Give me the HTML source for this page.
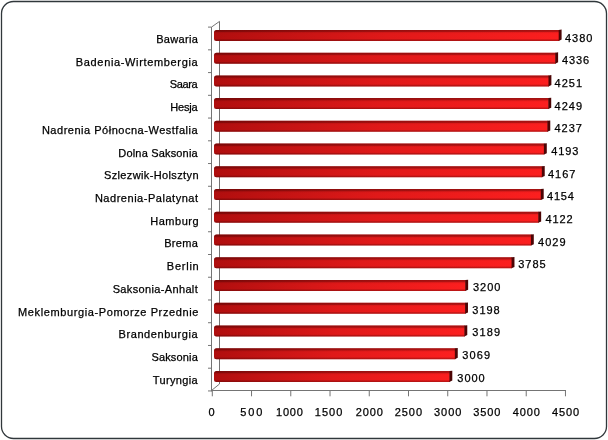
<!DOCTYPE html><html><head><meta charset="utf-8"><style>html,body{margin:0;padding:0;background:#fff;width:608px;height:440px;overflow:hidden}svg{display:block;will-change:transform}text{font-family:"Liberation Sans",sans-serif;font-size:11px;fill:#000;stroke:#000;stroke-width:0.25px}</style></head><body>
<svg width="608" height="440" viewBox="0 0 608 440">
<defs>
<linearGradient id="gh" x1="0" y1="0" x2="1" y2="0"><stop offset="0" stop-color="#b00e0e"/><stop offset="0.25" stop-color="#c81414"/><stop offset="0.5" stop-color="#e01919"/><stop offset="1" stop-color="#fc1f1f"/></linearGradient>
<linearGradient id="gv" x1="0" y1="0" x2="0" y2="1"><stop offset="0" stop-color="#300" stop-opacity="0.45"/><stop offset="0.16" stop-color="#300" stop-opacity="0.35"/><stop offset="0.24" stop-color="#300" stop-opacity="0.08"/><stop offset="0.35" stop-color="#300" stop-opacity="0"/><stop offset="0.8" stop-color="#300" stop-opacity="0"/><stop offset="0.9" stop-color="#300" stop-opacity="0.25"/><stop offset="1" stop-color="#300" stop-opacity="0.35"/></linearGradient>
</defs>
<rect x="1.5" y="1.5" width="605" height="437" rx="12" ry="12" fill="#fff" stroke="#30373b" stroke-width="1.3"/>
<g stroke="#747474" stroke-width="1" fill="none">
<path d="M211.5 27.1 V391.5 M219.5 21.4 V384 M211.5 27.1 L219.5 21.4 M211.5 390.5 L219.5 384 M211.5 390.5 H566"/>
<path d="M208 27.10 H211.5"/>
<path d="M208 49.84 H211.5"/>
<path d="M208 72.58 H211.5"/>
<path d="M208 95.32 H211.5"/>
<path d="M208 118.06 H211.5"/>
<path d="M208 140.80 H211.5"/>
<path d="M208 163.54 H211.5"/>
<path d="M208 186.28 H211.5"/>
<path d="M208 209.02 H211.5"/>
<path d="M208 231.76 H211.5"/>
<path d="M208 254.50 H211.5"/>
<path d="M208 277.24 H211.5"/>
<path d="M208 299.98 H211.5"/>
<path d="M208 322.72 H211.5"/>
<path d="M208 345.46 H211.5"/>
<path d="M208 368.20 H211.5"/>
<path d="M208 390.94 H211.5"/>
<path d="M212.30 390.5 V396.3"/>
<path d="M251.54 390.5 V396.3"/>
<path d="M290.78 390.5 V396.3"/>
<path d="M330.02 390.5 V396.3"/>
<path d="M369.26 390.5 V396.3"/>
<path d="M408.50 390.5 V396.3"/>
<path d="M447.74 390.5 V396.3"/>
<path d="M486.98 390.5 V396.3"/>
<path d="M526.22 390.5 V396.3"/>
<path d="M565.46 390.5 V396.3"/>
</g>
<path d="M216.50 29.90 H559.20 V40.90 H216.50 Q214 40.90 214 38.40 V32.40 Q214 29.90 216.50 29.90Z" fill="url(#gh)"/>
<path d="M216.50 29.90 H559.20 V40.90 H216.50 Q214 40.90 214 38.40 V32.40 Q214 29.90 216.50 29.90Z" fill="url(#gv)"/>
<path d="M558.70 29.90 L561.60 29.60 V39.50 L558.70 40.90Z" fill="#4c0505"/>
<path d="M216.50 52.64 H555.71 V63.64 H216.50 Q214 63.64 214 61.14 V55.14 Q214 52.64 216.50 52.64Z" fill="url(#gh)"/>
<path d="M216.50 52.64 H555.71 V63.64 H216.50 Q214 63.64 214 61.14 V55.14 Q214 52.64 216.50 52.64Z" fill="url(#gv)"/>
<path d="M555.21 52.64 L558.11 52.34 V62.24 L555.21 63.64Z" fill="#4c0505"/>
<path d="M216.50 75.38 H548.98 V86.38 H216.50 Q214 86.38 214 83.88 V77.88 Q214 75.38 216.50 75.38Z" fill="url(#gh)"/>
<path d="M216.50 75.38 H548.98 V86.38 H216.50 Q214 86.38 214 83.88 V77.88 Q214 75.38 216.50 75.38Z" fill="url(#gv)"/>
<path d="M548.48 75.38 L551.38 75.08 V84.98 L548.48 86.38Z" fill="#4c0505"/>
<path d="M216.50 98.12 H548.82 V109.12 H216.50 Q214 109.12 214 106.62 V100.62 Q214 98.12 216.50 98.12Z" fill="url(#gh)"/>
<path d="M216.50 98.12 H548.82 V109.12 H216.50 Q214 109.12 214 106.62 V100.62 Q214 98.12 216.50 98.12Z" fill="url(#gv)"/>
<path d="M548.32 98.12 L551.22 97.82 V107.72 L548.32 109.12Z" fill="#4c0505"/>
<path d="M216.50 120.86 H547.87 V131.86 H216.50 Q214 131.86 214 129.36 V123.36 Q214 120.86 216.50 120.86Z" fill="url(#gh)"/>
<path d="M216.50 120.86 H547.87 V131.86 H216.50 Q214 131.86 214 129.36 V123.36 Q214 120.86 216.50 120.86Z" fill="url(#gv)"/>
<path d="M547.37 120.86 L550.27 120.56 V130.46 L547.37 131.86Z" fill="#4c0505"/>
<path d="M216.50 143.60 H544.39 V154.60 H216.50 Q214 154.60 214 152.10 V146.10 Q214 143.60 216.50 143.60Z" fill="url(#gh)"/>
<path d="M216.50 143.60 H544.39 V154.60 H216.50 Q214 154.60 214 152.10 V146.10 Q214 143.60 216.50 143.60Z" fill="url(#gv)"/>
<path d="M543.89 143.60 L546.79 143.30 V153.20 L543.89 154.60Z" fill="#4c0505"/>
<path d="M216.50 166.34 H542.33 V177.34 H216.50 Q214 177.34 214 174.84 V168.84 Q214 166.34 216.50 166.34Z" fill="url(#gh)"/>
<path d="M216.50 166.34 H542.33 V177.34 H216.50 Q214 177.34 214 174.84 V168.84 Q214 166.34 216.50 166.34Z" fill="url(#gv)"/>
<path d="M541.83 166.34 L544.73 166.04 V175.94 L541.83 177.34Z" fill="#4c0505"/>
<path d="M216.50 189.08 H541.30 V200.08 H216.50 Q214 200.08 214 197.58 V191.58 Q214 189.08 216.50 189.08Z" fill="url(#gh)"/>
<path d="M216.50 189.08 H541.30 V200.08 H216.50 Q214 200.08 214 197.58 V191.58 Q214 189.08 216.50 189.08Z" fill="url(#gv)"/>
<path d="M540.80 189.08 L543.70 188.78 V198.68 L540.80 200.08Z" fill="#4c0505"/>
<path d="M216.50 211.82 H538.76 V222.82 H216.50 Q214 222.82 214 220.32 V214.32 Q214 211.82 216.50 211.82Z" fill="url(#gh)"/>
<path d="M216.50 211.82 H538.76 V222.82 H216.50 Q214 222.82 214 220.32 V214.32 Q214 211.82 216.50 211.82Z" fill="url(#gv)"/>
<path d="M538.26 211.82 L541.16 211.52 V221.42 L538.26 222.82Z" fill="#4c0505"/>
<path d="M216.50 234.56 H531.40 V245.56 H216.50 Q214 245.56 214 243.06 V237.06 Q214 234.56 216.50 234.56Z" fill="url(#gh)"/>
<path d="M216.50 234.56 H531.40 V245.56 H216.50 Q214 245.56 214 243.06 V237.06 Q214 234.56 216.50 234.56Z" fill="url(#gv)"/>
<path d="M530.90 234.56 L533.80 234.26 V244.16 L530.90 245.56Z" fill="#4c0505"/>
<path d="M216.50 257.30 H512.07 V268.30 H216.50 Q214 268.30 214 265.80 V259.80 Q214 257.30 216.50 257.30Z" fill="url(#gh)"/>
<path d="M216.50 257.30 H512.07 V268.30 H216.50 Q214 268.30 214 265.80 V259.80 Q214 257.30 216.50 257.30Z" fill="url(#gv)"/>
<path d="M511.57 257.30 L514.47 257.00 V266.90 L511.57 268.30Z" fill="#4c0505"/>
<path d="M216.50 280.04 H465.74 V291.04 H216.50 Q214 291.04 214 288.54 V282.54 Q214 280.04 216.50 280.04Z" fill="url(#gh)"/>
<path d="M216.50 280.04 H465.74 V291.04 H216.50 Q214 291.04 214 288.54 V282.54 Q214 280.04 216.50 280.04Z" fill="url(#gv)"/>
<path d="M465.24 280.04 L468.14 279.74 V289.64 L465.24 291.04Z" fill="#4c0505"/>
<path d="M216.50 302.78 H465.58 V313.78 H216.50 Q214 313.78 214 311.28 V305.28 Q214 302.78 216.50 302.78Z" fill="url(#gh)"/>
<path d="M216.50 302.78 H465.58 V313.78 H216.50 Q214 313.78 214 311.28 V305.28 Q214 302.78 216.50 302.78Z" fill="url(#gv)"/>
<path d="M465.08 302.78 L467.98 302.48 V312.38 L465.08 313.78Z" fill="#4c0505"/>
<path d="M216.50 325.52 H464.87 V336.52 H216.50 Q214 336.52 214 334.02 V328.02 Q214 325.52 216.50 325.52Z" fill="url(#gh)"/>
<path d="M216.50 325.52 H464.87 V336.52 H216.50 Q214 336.52 214 334.02 V328.02 Q214 325.52 216.50 325.52Z" fill="url(#gv)"/>
<path d="M464.37 325.52 L467.27 325.22 V335.12 L464.37 336.52Z" fill="#4c0505"/>
<path d="M216.50 348.26 H455.36 V359.26 H216.50 Q214 359.26 214 356.76 V350.76 Q214 348.26 216.50 348.26Z" fill="url(#gh)"/>
<path d="M216.50 348.26 H455.36 V359.26 H216.50 Q214 359.26 214 356.76 V350.76 Q214 348.26 216.50 348.26Z" fill="url(#gv)"/>
<path d="M454.86 348.26 L457.76 347.96 V357.86 L454.86 359.26Z" fill="#4c0505"/>
<path d="M216.50 371.00 H449.90 V382.00 H216.50 Q214 382.00 214 379.50 V373.50 Q214 371.00 216.50 371.00Z" fill="url(#gh)"/>
<path d="M216.50 371.00 H449.90 V382.00 H216.50 Q214 382.00 214 379.50 V373.50 Q214 371.00 216.50 371.00Z" fill="url(#gv)"/>
<path d="M449.40 371.00 L452.30 370.70 V380.60 L449.40 382.00Z" fill="#4c0505"/>
<text id="l0" x="156.17" y="42.80" textLength="41.65" lengthAdjust="spacing">Bawaria</text>
<text id="l1" x="75.85" y="65.54" textLength="121.79" lengthAdjust="spacing">Badenia-Wirtembergia</text>
<text id="l2" x="169.67" y="88.28" textLength="27.97" lengthAdjust="spacing">Saara</text>
<text id="l3" x="170.25" y="111.02" textLength="27.38" lengthAdjust="spacing">Hesja</text>
<text id="l4" x="41.91" y="133.76" textLength="155.70" lengthAdjust="spacing">Nadrenia Północna-Westfalia</text>
<text id="l5" x="118.29" y="156.50" textLength="79.35" lengthAdjust="spacing">Dolna Saksonia</text>
<text id="l6" x="103.94" y="179.24" textLength="94.56" lengthAdjust="spacing">Szlezwik-Holsztyn</text>
<text id="l7" x="94.90" y="201.98" textLength="103.09" lengthAdjust="spacing">Nadrenia-Palatynat</text>
<text id="l8" x="150.19" y="224.72" textLength="48.48" lengthAdjust="spacing">Hamburg</text>
<text id="l9" x="164.19" y="247.46" textLength="33.65" lengthAdjust="spacing">Brema</text>
<text id="l10" x="166.83" y="270.20" textLength="31.87" lengthAdjust="spacing">Berlin</text>
<text id="l11" x="112.67" y="292.94" textLength="85.04" lengthAdjust="spacing">Saksonia-Anhalt</text>
<text id="l12" x="18.08" y="315.68" textLength="180.26" lengthAdjust="spacing">Meklemburgia-Pomorze Przednie</text>
<text id="l13" x="118.59" y="338.42" textLength="79.03" lengthAdjust="spacing">Brandenburgia</text>
<text id="l14" x="151.42" y="361.16" textLength="46.43" lengthAdjust="spacing">Saksonia</text>
<text id="l15" x="152.86" y="383.90" textLength="44.79" lengthAdjust="spacing">Turyngia</text>
<text id="v0" x="565.08" y="41.60" textLength="27.20" lengthAdjust="spacing">4380</text>
<text id="v1" x="561.90" y="64.27" textLength="27.30" lengthAdjust="spacing">4336</text>
<text id="v2" x="554.62" y="86.93" textLength="27.46" lengthAdjust="spacing">4251</text>
<text id="v3" x="554.62" y="109.60" textLength="27.39" lengthAdjust="spacing">4249</text>
<text id="v4" x="554.55" y="132.27" textLength="27.31" lengthAdjust="spacing">4237</text>
<text id="v5" x="551.31" y="154.94" textLength="27.13" lengthAdjust="spacing">4193</text>
<text id="v6" x="548.09" y="177.60" textLength="27.21" lengthAdjust="spacing">4167</text>
<text id="v7" x="546.95" y="200.27" textLength="27.00" lengthAdjust="spacing">4154</text>
<text id="v8" x="545.56" y="222.94" textLength="27.07" lengthAdjust="spacing">4122</text>
<text id="v9" x="538.09" y="245.60" textLength="27.44" lengthAdjust="spacing">4029</text>
<text id="v10" x="518.32" y="268.27" textLength="27.24" lengthAdjust="spacing">3785</text>
<text id="v11" x="473.07" y="290.94" textLength="27.28" lengthAdjust="spacing">3200</text>
<text id="v12" x="472.32" y="313.60" textLength="27.38" lengthAdjust="spacing">3198</text>
<text id="v13" x="472.32" y="336.27" textLength="27.72" lengthAdjust="spacing">3189</text>
<text id="v14" x="462.32" y="358.94" textLength="27.79" lengthAdjust="spacing">3069</text>
<text id="v15" x="457.30" y="381.61" textLength="27.38" lengthAdjust="spacing">3000</text>
<text id="a0" x="208.54" y="416.00" textLength="14.16" lengthAdjust="spacing">0</text>
<text id="a1" x="240.33" y="416.00" textLength="21.96" lengthAdjust="spacing">500</text>
<text id="a2" x="275.96" y="416.00" textLength="26.93" lengthAdjust="spacing">1000</text>
<text id="a3" x="314.70" y="416.00" textLength="27.72" lengthAdjust="spacing">1500</text>
<text id="a4" x="355.73" y="416.00" textLength="27.17" lengthAdjust="spacing">2000</text>
<text id="a5" x="394.66" y="416.00" textLength="27.44" lengthAdjust="spacing">2500</text>
<text id="a6" x="433.97" y="416.00" textLength="27.50" lengthAdjust="spacing">3000</text>
<text id="a7" x="473.34" y="416.00" textLength="27.10" lengthAdjust="spacing">3500</text>
<text id="a8" x="512.76" y="416.00" textLength="27.04" lengthAdjust="spacing">4000</text>
<text id="a9" x="552.08" y="416.00" textLength="27.15" lengthAdjust="spacing">4500</text>
</svg></body></html>
